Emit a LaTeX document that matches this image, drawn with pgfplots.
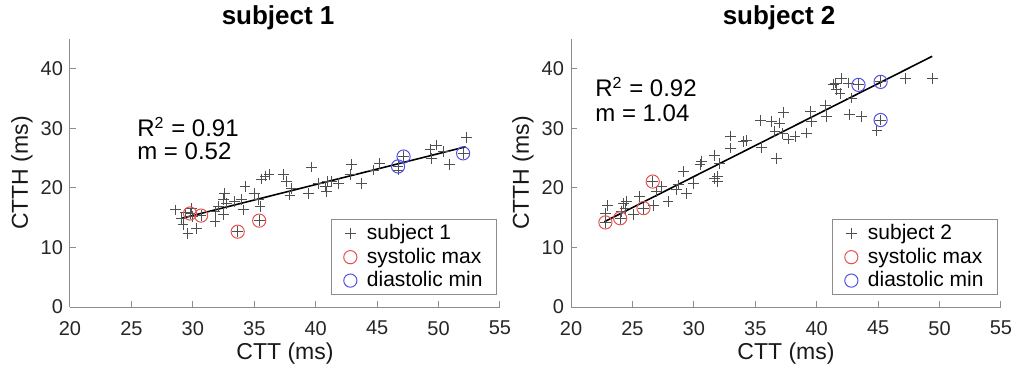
\documentclass[border=0pt]{standalone}
\usepackage{fontspec}
\setmainfont{Liberation Sans}
\usepackage{pgfplots}
\pgfplotsset{compat=1.18}
\usepackage{pgfplotstable}
\definecolor{mkgray}{RGB}{80,80,80}
\definecolor{axgray}{RGB}{140,140,140}
\definecolor{sysred}{RGB}{232,80,80}
\definecolor{diablue}{RGB}{80,80,230}

\pgfplotstableread{
x y
28.6 16.3
29.1 14.9
29.2 13.8
29.6 12.4
29.9 16.6
30.3 13.2
29.4 15.8
30.0 15.2
29.77 15.7
30.67 15.35
31.8 16.0
31.8 14.3
32.08 16.9
32.5 15.5
32.5 18.0
32.6 19.1
32.76 17.4
33.4 17.7
33.65 12.65
33.97 18.0
34.1 16.3
34.25 20.2
35.0 19.1
35.33 18.1
35.4 14.5
35.47 16.9
35.6 21.5
35.88 22.0
36.2 22.2
37.37 22.2
37.6 21.06
37.9 18.8
38.0 19.9
39.4 19.1
39.68 23.5
40.2 20.8
40.77 20.2
40.9 19.4
40.98 21.1
41.3 21.06
41.85 20.8
42.8 22.2
42.9 23.9
43.75 20.8
44.7 23.0
45.2 24.15
46.7 23.0
46.7 23.6
47.15 25.26
49.3 26.4
49.45 25.0
49.86 27.2
50.4 26.1
50.9 23.9
52.0 25.8
52.3 28.5
}\subA
\pgfplotstableread{
x y
29.77 15.7
30.67 15.35
33.65 12.65
35.4 14.5
}\sysA
\pgfplotstableread{
x y
46.7 23.6
47.15 25.26
52.0 25.8
}\diaA
\pgfplotstableread{
x y
22.8 14.2
22.8 15.75
23.0 17.1
24.0 14.9
24.1 16.1
24.26 17.4
24.4 16.6
24.5 17.8
25.07 15.5
25.6 18.5
25.9 16.6
26.65 21.06
26.7 17.1
26.98 19.4
27.4 20.2
27.9 17.7
28.6 19.7
28.74 20.5
29.15 22.7
29.4 19.1
30.0 20.8
30.5 23.9
30.6 24.4
31.7 25.5
31.7 21.6
31.9 21.06
31.9 21.9
32.1 24.15
33.0 28.7
33.0 26.7
34.0 27.8
34.3 27.95
35.4 31.3
35.5 26.8
36.35 31.1
36.6 29.5
36.75 25.0
37.0 30.9
37.2 29.1
37.3 32.65
37.7 28.2
38.24 28.6
39.14 29.2
39.5 32.8
39.6 31.1
40.7 33.9
40.8 32.0
41.37 37.3
41.5 37.6
41.6 36.5
41.9 35.9
42.04 38.4
42.6 37.6
42.7 32.3
42.86 35.1
43.4 37.3
43.65 32.0
44.9 29.7
45.2 37.8
45.2 31.4
47.2 38.4
49.4 38.4
}\subB
\pgfplotstableread{
x y
22.8 14.2
24.0 14.9
25.9 16.6
26.65 21.06
}\sysB
\pgfplotstableread{
x y
43.4 37.3
45.2 37.8
45.2 31.4
}\diaB

\pgfplotsset{
  myax/.style={
    scale only axis, width=215pt, height=134pt,
    xmin=20, xmax=55, ymin=0, ymax=45,
    xtick={20,25,...,55}, ytick={0,10,...,40},
    axis lines*=left, xtick pos=bottom, ytick pos=left,
    axis line style={-, axgray, line width=0.5pt},
    tick style={axgray, line width=0.5pt},
    tick align=inside, major tick length=3pt,
    tick label style={font=\fontsize{10}{12}\selectfont, black!85},
    xticklabel style={yshift=-3.5pt},
    /pgf/number format/assume math mode=true,
    label style={font=\fontsize{11.5}{13}\selectfont, black!90},
    xlabel={CTT (ms)}, ylabel={CTTH (ms)},
    x label style={at={(axis description cs:0.5,-0.172)}, anchor=center},
    y label style={at={(axis description cs:-0.112,0.5)}, anchor=center, rotate=0},
    legend cell align=left,
    legend style={at={(0.993,0.044)}, anchor=south east, draw=axgray, line width=0.5pt,
      font=\fontsize{10.5}{12}\selectfont, inner xsep=6pt, inner ysep=1.5pt,
      nodes={inner sep=1pt}, row sep=0.6pt,
      /tikz/every odd column/.append style={column sep=4pt}},
    clip=false,
  },
  pl/.style={only marks, mark=+, mark size=2.7pt, mkgray, mark options={line width=0.45pt}},
  sy/.style={only marks, mark=o, mark size=3.3pt, sysred, mark options={line width=0.5pt}},
  di/.style={only marks, mark=o, mark size=3.3pt, diablue, mark options={line width=0.5pt}},
}

\begin{document}
\begin{tikzpicture}
\path[use as bounding box] (0,0) rectangle (514.5pt,-184.5pt);
\begin{axis}[myax, at={(35pt,-153.5pt)}, anchor=south west]
\addplot[pl] table {\subA};
\addlegendentry{subject 1}
\addplot[sy] table {\sysA};
\addlegendentry{systolic max}
\addplot[di] table {\diaA};
\addlegendentry{diastolic min}
\addplot[black, line width=0.8pt, forget plot] coordinates {(29.1,14.9) (52.2,26.9)};
\node[anchor=base west, inner sep=0pt, font=\fontsize{12}{14}\selectfont] at (axis cs:25.45,28.57) {R\textsuperscript{2} = 0.91};
\node[anchor=base west, inner sep=0pt, font=\fontsize{12}{14}\selectfont] at (axis cs:25.45,24.7) {m = 0.52};
\node[anchor=center, inner sep=0pt, font=\bfseries\fontsize{13}{15}\selectfont] at (axis description cs:0.484,1.078) {subject 1};
\end{axis}
\begin{axis}[myax, at={(285.5pt,-153.5pt)}, anchor=south west]
\addplot[pl] table {\subB};
\addlegendentry{subject 2}
\addplot[sy] table {\sysB};
\addlegendentry{systolic max}
\addplot[di] table {\diaB};
\addlegendentry{diastolic min}
\addplot[black, line width=0.8pt, forget plot] coordinates {(22.7,14.3) (49.4,42.1)};
\node[anchor=base west, inner sep=0pt, font=\fontsize{12}{14}\selectfont] at (axis cs:21.95,35.3) {R\textsuperscript{2} = 0.92};
\node[anchor=base west, inner sep=0pt, font=\fontsize{12}{14}\selectfont] at (axis cs:21.95,31.1) {m = 1.04};
\node[anchor=center, inner sep=0pt, font=\bfseries\fontsize{13}{15}\selectfont] at (axis description cs:0.484,1.078) {subject 2};
\end{axis}
\end{tikzpicture}
\end{document}
